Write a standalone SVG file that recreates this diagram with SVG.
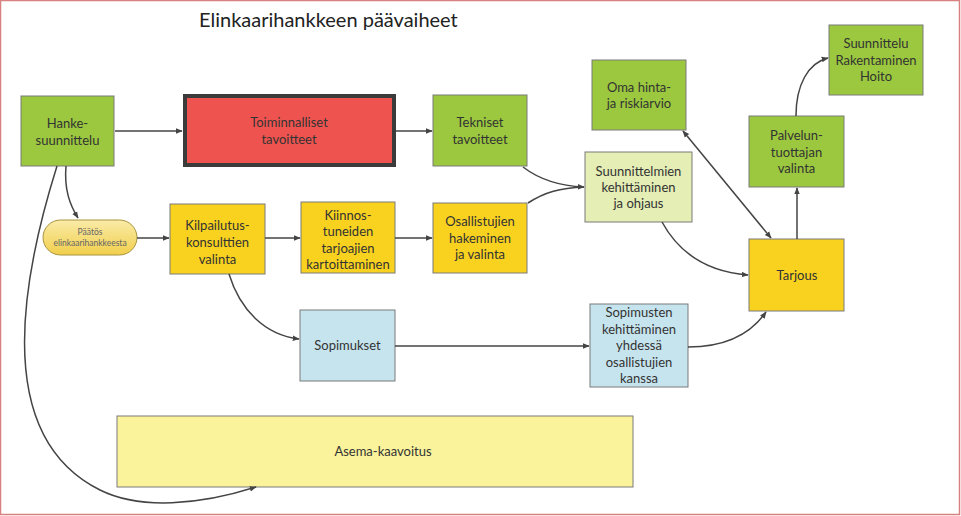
<svg xmlns="http://www.w3.org/2000/svg" width="961" height="516" viewBox="0 0 961 516">
<defs>
<marker id="ah" viewBox="0 0 10 10" refX="9" refY="5" markerWidth="7" markerHeight="7" orient="auto-start-reverse" markerUnits="userSpaceOnUse">
<path d="M0,1 L10,5 L0,9 Z" fill="#444"/>
</marker>
<linearGradient id="pillg" x1="0" y1="0" x2="0" y2="1">
<stop offset="0" stop-color="#faeba8"/>
<stop offset="1" stop-color="#f1cf4c"/>
</linearGradient>
</defs>
<style>
.n rect{stroke:#7a7a7a;stroke-width:1}
.g{fill:#9bc83e}
.y{fill:#f9d21f}
.lg{fill:#e4eeb5}
.b{fill:#c6e4ed}
.t{font-family:Lato,"Open Sans",sans-serif;font-size:13px;fill:#333;text-anchor:middle}
.c path,.c line{fill:none;stroke:#444;stroke-width:1.5}
</style>
<rect x="0.5" y="0.5" width="959" height="514" fill="#fff" stroke="#d98080" stroke-width="1.5"/>
<text x="199" y="27" style="font-family:Lato,'Open Sans',sans-serif;font-size:20px;fill:#222">Elinkaarihankkeen päävaiheet</text>

<g id="hanke" class="n"><rect class="g" x="21" y="96" width="93" height="70"/><text class="t" x="67.5" y="128">Hanke-</text><text class="t" x="67.5" y="145">suunnittelu</text></g>
<g id="toiminnalliset"><rect x="185" y="96" width="209" height="69" fill="#ef5350" stroke="#3b3b3b" stroke-width="4"/><text class="t" x="289" y="127">Toiminnalliset</text><text class="t" x="289" y="144">tavoitteet</text></g>
<g id="tekniset" class="n"><rect class="g" x="433" y="95" width="94" height="71"/><text class="t" x="480" y="127">Tekniset</text><text class="t" x="480" y="144">tavoitteet</text></g>
<g id="paatos"><rect x="43" y="220" width="94" height="35" rx="17.5" fill="url(#pillg)" stroke="#a89440" stroke-width="1"/><text x="90" y="235" style="font-family:Lato,sans-serif;font-size:8.5px;fill:#666;text-anchor:middle">Päätös</text><text x="90" y="246" style="font-family:Lato,sans-serif;font-size:8.5px;fill:#666;text-anchor:middle">elinkaarihankkeesta</text></g>
<g id="kilpailutus" class="n"><rect class="y" x="170" y="204" width="95" height="70"/><text class="t" x="217.5" y="230">Kilpailutus-</text><text class="t" x="217.5" y="247">konsulttien</text><text class="t" x="217.5" y="264">valinta</text></g>
<g id="kiinnos" class="n"><rect class="y" x="301" y="202" width="94" height="71"/><text class="t" x="348" y="220">Kiinnos-</text><text class="t" x="348" y="236">tuneiden</text><text class="t" x="348" y="253">tarjoajien</text><text class="t" x="348" y="269">kartoittaminen</text></g>
<g id="osallistujien" class="n"><rect class="y" x="433" y="203" width="94" height="70"/><text class="t" x="480" y="226">Osallistujien</text><text class="t" x="480" y="243">hakeminen</text><text class="t" x="480" y="259">ja valinta</text></g>
<g id="suunnittelmien" class="n"><rect class="lg" x="585" y="152" width="107" height="70"/><text class="t" x="638.5" y="176">Suunnittelmien</text><text class="t" x="638.5" y="192">kehittäminen</text><text class="t" x="638.5" y="208">ja ohjaus</text></g>
<g id="oma" class="n"><rect class="g" x="592" y="60" width="94" height="70"/><text class="t" x="639" y="92">Oma hinta-</text><text class="t" x="639" y="108">ja riskiarvio</text></g>
<g id="suunnittelu" class="n"><rect class="g" x="829" y="25" width="94" height="70"/><text class="t" x="876" y="48">Suunnittelu</text><text class="t" x="876" y="65">Rakentaminen</text><text class="t" x="876" y="81">Hoito</text></g>
<g id="palvelun" class="n"><rect class="g" x="749" y="116" width="95" height="71"/><text class="t" x="796.5" y="140">Palvelun-</text><text class="t" x="796.5" y="157">tuottajan</text><text class="t" x="796.5" y="173">valinta</text></g>
<g id="tarjous" class="n"><rect class="y" x="749" y="239" width="95" height="72"/><text class="t" x="797" y="280">Tarjous</text></g>
<g id="sopimusten" class="n"><rect class="b" x="590" y="304" width="98" height="83"/><text class="t" x="639" y="317">Sopimusten</text><text class="t" x="639" y="334">kehittäminen</text><text class="t" x="639" y="350">yhdessä</text><text class="t" x="639" y="367">osallistujien</text><text class="t" x="639" y="383">kanssa</text></g>
<g id="sopimukset" class="n"><rect class="b" x="300" y="310" width="95" height="71"/><text class="t" x="347.5" y="350">Sopimukset</text></g>
<g id="asema" class="n"><rect x="117" y="416" width="516" height="71" fill="#faf39b"/><text class="t" x="383" y="456">Asema-kaavoitus</text></g>

<g id="connectors" class="c">
<line x1="115" y1="131" x2="182" y2="131" marker-end="url(#ah)"/>
<line x1="396" y1="131" x2="432" y2="131" marker-end="url(#ah)"/>
<path d="M66,166 C64,190 70,205 78,218" marker-end="url(#ah)"/>
<line x1="137" y1="238" x2="169" y2="238" marker-end="url(#ah)"/>
<line x1="265" y1="238" x2="300" y2="238" marker-end="url(#ah)"/>
<line x1="395" y1="238" x2="432" y2="238" marker-end="url(#ah)"/>
<path d="M523,167 C540,180 560,186 584,187" marker-end="url(#ah)"/>
<path d="M528,203 C545,192 560,188 584,187"/>
<path d="M662,222 C680,255 710,272 748,275" marker-end="url(#ah)"/>
<line x1="683" y1="131" x2="771" y2="238" marker-start="url(#ah)" marker-end="url(#ah)"/>
<line x1="797" y1="239" x2="797" y2="188" marker-end="url(#ah)"/>
<path d="M796,116 C796,85 808,63 828,58" marker-end="url(#ah)"/>
<path d="M229,274 C240,310 265,335 299,339" marker-end="url(#ah)"/>
<line x1="395" y1="346" x2="589" y2="346" marker-end="url(#ah)"/>
<path d="M688,347 C725,347 750,335 766,312" marker-end="url(#ah)"/>
<path d="M57,166 C15,300 0,440 100,490 C140,510 200,505 256,487" marker-end="url(#ah)"/>
</g>
</svg>
